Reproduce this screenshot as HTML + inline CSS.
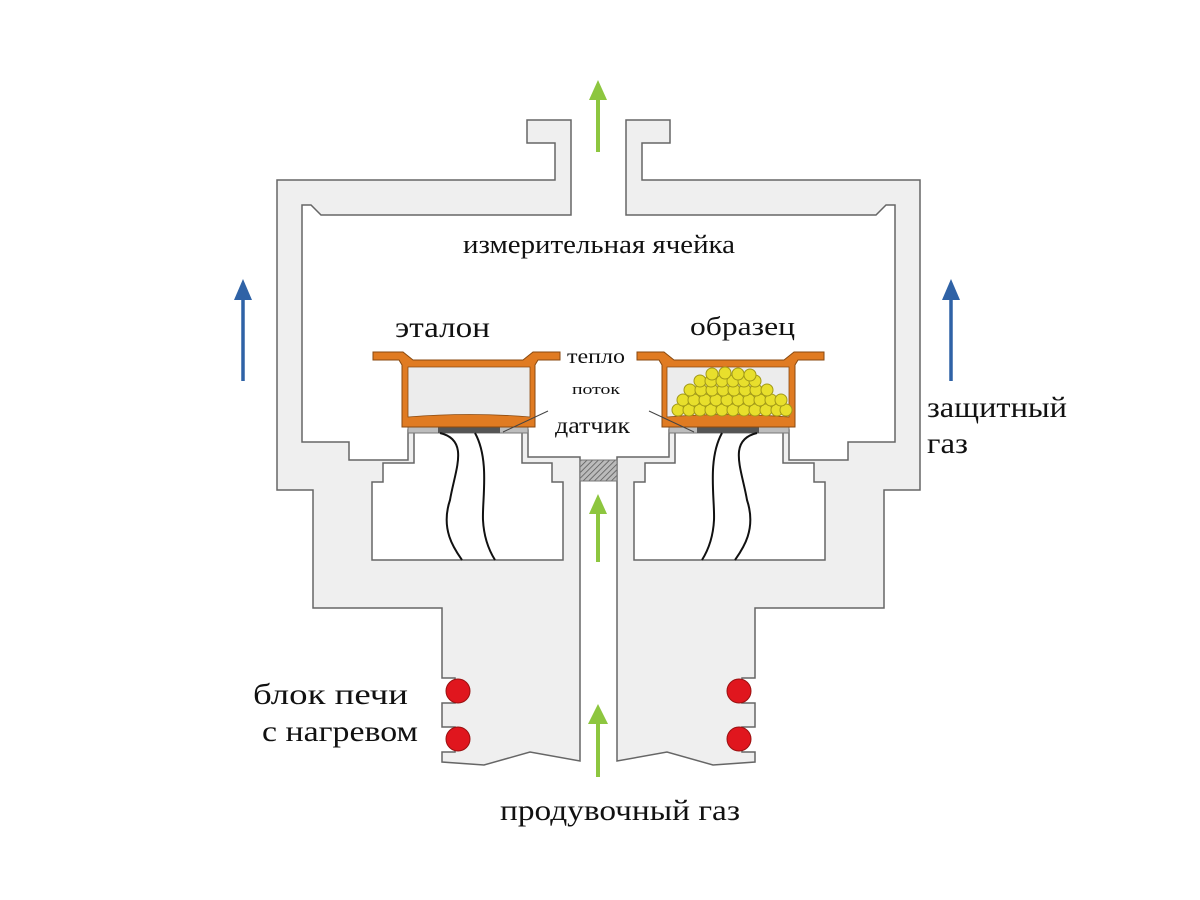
<!DOCTYPE html>
<html><head><meta charset="utf-8"><style>
html,body{margin:0;padding:0;background:#fff;}
svg{display:block;}
text{font-family:"Liberation Serif",serif;fill:#111;}
</style></head><body>
<svg width="1200" height="900" viewBox="0 0 1200 900" xmlns="http://www.w3.org/2000/svg">
<defs>
<pattern id="hatch" width="4" height="4" patternUnits="userSpaceOnUse" patternTransform="rotate(45)">
<rect width="4" height="4" fill="#bbb"/><line x1="0" y1="0" x2="0" y2="4" stroke="#555" stroke-width="1.5"/>
</pattern>
<g id="half">
<path fill="#efefef" stroke="#666" stroke-width="1.5" stroke-linejoin="miter" d="M527,120 L571,120 L571,215 L321,215 L311,205 L302,205 L302,442 L349,442 L349,460 L408,460 L408,430 L414,430 L414,463 L383,463 L383,482 L372,482 L372,560 L563,560 L563,482 L552,482 L552,463 L522,463 L522,430 L528,430 L528,457 L580,457 L580,761 L530,752 L484,765 L442,762 L442,752 L455,752 L455,727 L442,727 L442,703 L455,703 L455,678 L442,678 L442,608 L313,608 L313,490 L277,490 L277,180 L555,180 L555,143 L527,143 Z"/>
<rect x="408" y="427" width="120" height="6" fill="#bdbdbd" stroke="#777" stroke-width="1"/>
<rect x="438" y="426" width="62" height="7" fill="#555"/>
<path fill="#e07b22" stroke="#8a4a10" stroke-width="1" d="M373,352 L403,352 L413,360 L523,360 L533,352 L560,352 L560,360 L538,360 L535,365 L535,427 L402,427 L402,365 L399,360 L373,360 Z"/>
<path fill="#ececec" stroke="#8a4a10" stroke-width="0.8" d="M408,367 L530,367 L530,417 Q470,412 408,417 Z"/>
<path d="M440,433 C470,440 455,470 450,500 C440,530 455,550 462,560" fill="none" stroke="#111" stroke-width="2"/>
<path d="M475,433 C490,460 482,500 483,520 C484,540 490,552 495,560" fill="none" stroke="#111" stroke-width="2"/>
<circle cx="458" cy="691" r="12" fill="#e0161e" stroke="#9a1010" stroke-width="1"/>
<circle cx="458" cy="739" r="12" fill="#e0161e" stroke="#9a1010" stroke-width="1"/>
<line x1="503" y1="432" x2="548" y2="411" stroke="#444" stroke-width="1"/>
</g>
</defs>
<use href="#half"/>
<use href="#half" transform="matrix(-1,0,0,1,1197,0)"/>
<rect x="580" y="460" width="37" height="21" fill="url(#hatch)" stroke="#777" stroke-width="1"/>
<g fill="#e8df2c" stroke="#a29a18" stroke-width="1">
<circle cx="678" cy="410" r="6"/><circle cx="689" cy="410" r="6"/><circle cx="700" cy="410" r="6"/><circle cx="711" cy="410" r="6"/><circle cx="722" cy="410" r="6"/><circle cx="733" cy="410" r="6"/><circle cx="744" cy="410" r="6"/><circle cx="755" cy="410" r="6"/><circle cx="766" cy="410" r="6"/><circle cx="777" cy="410" r="6"/><circle cx="786" cy="410" r="6"/>
<circle cx="683" cy="400" r="6"/><circle cx="694" cy="400" r="6"/><circle cx="705" cy="400" r="6"/><circle cx="716" cy="400" r="6"/><circle cx="727" cy="400" r="6"/><circle cx="738" cy="400" r="6"/><circle cx="749" cy="400" r="6"/><circle cx="760" cy="400" r="6"/><circle cx="771" cy="400" r="6"/><circle cx="781" cy="400" r="6"/>
<circle cx="690" cy="390" r="6"/><circle cx="701" cy="390" r="6"/><circle cx="712" cy="390" r="6"/><circle cx="723" cy="390" r="6"/><circle cx="734" cy="390" r="6"/><circle cx="745" cy="390" r="6"/><circle cx="756" cy="390" r="6"/><circle cx="767" cy="390" r="6"/>
<circle cx="700" cy="381" r="6"/><circle cx="711" cy="381" r="6"/><circle cx="722" cy="381" r="6"/><circle cx="733" cy="381" r="6"/><circle cx="744" cy="381" r="6"/><circle cx="755" cy="381" r="6"/>
<circle cx="712" cy="374" r="6"/><circle cx="725" cy="373" r="6"/><circle cx="738" cy="374" r="6"/><circle cx="750" cy="375" r="6"/>
</g>
<g fill="#8dc63f" stroke="#8dc63f" stroke-width="4">
<line x1="598" y1="152" x2="598" y2="98"/><polygon points="589,100 607,100 598,80" stroke="none"/>
<line x1="598" y1="562" x2="598" y2="512"/><polygon points="589,514 607,514 598,494" stroke="none"/>
<line x1="598" y1="777" x2="598" y2="722"/><polygon points="588,724 608,724 598,704" stroke="none"/>
</g>
<g fill="#2f62a6" stroke="#2f62a6" stroke-width="3.5">
<line x1="243" y1="381" x2="243" y2="298"/><polygon points="234,300 252,300 243,279" stroke="none"/>
<line x1="951" y1="381" x2="951" y2="298"/><polygon points="942,300 960,300 951,279" stroke="none"/>
</g>
<text x="463" y="253" font-size="26" textLength="272" lengthAdjust="spacingAndGlyphs">измерительная ячейка</text>
<text x="395" y="337" font-size="30" textLength="95" lengthAdjust="spacingAndGlyphs">эталон</text>
<text x="690" y="335" font-size="26" textLength="105" lengthAdjust="spacingAndGlyphs">образец</text>
<text x="567" y="363" font-size="20" textLength="58" lengthAdjust="spacingAndGlyphs">тепло</text>
<text x="572" y="394" font-size="15" textLength="48" lengthAdjust="spacingAndGlyphs">поток</text>
<text x="555" y="433" font-size="23" textLength="75" lengthAdjust="spacingAndGlyphs">датчик</text>
<text x="927" y="417" font-size="30" textLength="140" lengthAdjust="spacingAndGlyphs">защитный</text>
<text x="927" y="453" font-size="30" textLength="41" lengthAdjust="spacingAndGlyphs">газ</text>
<text x="253" y="704" font-size="30" textLength="155" lengthAdjust="spacingAndGlyphs">блок печи</text>
<text x="262" y="741" font-size="30" textLength="156" lengthAdjust="spacingAndGlyphs">с нагревом</text>
<text x="500" y="820" font-size="30" textLength="240" lengthAdjust="spacingAndGlyphs">продувочный газ</text>
</svg>
</body></html>
